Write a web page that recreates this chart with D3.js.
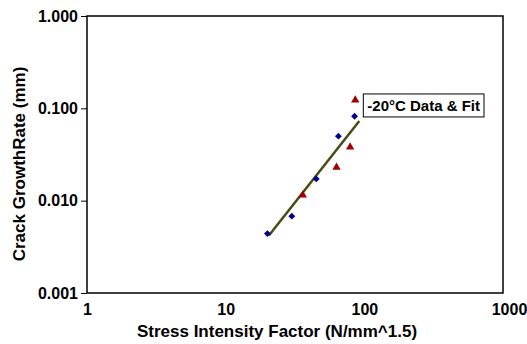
<!DOCTYPE html>
<html>
<head>
<meta charset="utf-8">
<script src="https://cdn.jsdelivr.net/npm/d3@7"></script>
<style>
  body { margin: 0; background: #fff; }
  text { font-family: "Liberation Sans", Arial, sans-serif; font-weight: bold; fill: #000; }
</style>
</head>
<body>
<div id="chart"></div>
<script>
// stress intensity factor (N/mm^1.5) vs crack growth rate (mm)
var blueK = [20, 30, 45, 65, 85];
var blueRate = [0.0044, 0.0068, 0.0172, 0.050, 0.082];
var redK = [36, 63, 79, 86];
var redRate = [0.0115, 0.023, 0.038, 0.123];
var fitK = [20.5, 92];
var fitRate = [0.0042, 0.073];
var xTicks = [1, 10, 100, 1000];
var yTicks = [0.001, 0.01, 0.1, 1];
var labelText = "-20°C Data & Fit";

function drawChart() {
  const width = 527;
  const height = 344;
  const margin = { top: 16, right: 24, bottom: 51, left: 87 };

  const svg = d3.select("#chart").append("svg")
    .attr("width", width)
    .attr("height", height);

  const x = d3.scaleLog()
    .domain([1, 1000])
    .range([margin.left, width - margin.right]);

  const y = d3.scaleLog()
    .domain([0.001, 1])
    .range([height - margin.bottom, margin.top]);

  // frame round the plot
  svg.append("rect")
    .attr("x", margin.left)
    .attr("y", margin.top)
    .attr("width", x(1000) - x(1))
    .attr("height", y(0.001) - y(1))
    .attr("fill", "none")
    .attr("stroke", "#000")
    .attr("stroke-width", 1.5);

  // y axis
  const yAxis = svg.append("g")
    .attr("transform", `translate(${margin.left},0)`)
    .call(d3.axisLeft(y).tickValues(yTicks).tickFormat(d3.format(".3f")).tickSize(6).tickPadding(3));
  yAxis.select(".domain").remove();
  yAxis.selectAll("text").attr("font-size", 16).style("font-family", "Liberation Sans, Arial, sans-serif").style("font-weight", "bold");

  // x axis, no tick marks
  const xAxis = svg.append("g")
    .attr("transform", `translate(0,${y(0.001)})`)
    .call(d3.axisBottom(x).tickValues(xTicks).tickFormat(d3.format("d")).tickSize(0).tickPadding(11));
  xAxis.select(".domain").remove();
  xAxis.selectAll("text").attr("font-size", 16).style("font-family", "Liberation Sans, Arial, sans-serif").style("font-weight", "bold");
  // last label is pushed in so it stays inside the window
  xAxis.selectAll("text").filter(d => d === 1000).attr("dx", 6);

  // axis titles
  svg.append("text")
    .attr("x", 277)
    .attr("y", 337)
    .attr("text-anchor", "middle")
    .attr("font-size", 17)
    .text("Stress Intensity Factor (N/mm^1.5)");

  svg.append("text")
    .attr("transform", "translate(25,164) rotate(-90)")
    .attr("text-anchor", "middle")
    .attr("font-size", 17)
    .text("Crack GrowthRate (mm)");

  // fit line
  const line = d3.line()
    .x(d => x(d[0]))
    .y(d => y(d[1]));
  svg.append("path")
    .datum(d3.zip(fitK, fitRate))
    .attr("d", line)
    .attr("fill", "none")
    .attr("stroke", "#4a4a16")
    .attr("stroke-width", 2.5);

  // blue diamonds
  svg.append("g").selectAll("path")
    .data(d3.zip(blueK, blueRate))
    .join("path")
    .attr("transform", d => `translate(${x(d[0])},${y(d[1])})`)
    .attr("d", d3.symbol(d3.symbolDiamond2, 30))
    .attr("fill", "#00008b");

  // red triangles
  svg.append("g").selectAll("path")
    .data(d3.zip(redK, redRate))
    .join("path")
    .attr("transform", d => `translate(${x(d[0])},${y(d[1])})`)
    .attr("d", d3.symbol(d3.symbolTriangle, 30))
    .attr("fill", "#a00000");

  // label box next to the end of the fit
  const lx = x(fitK[1]) + 4;
  const ly = y(fitRate[1]) - 27;
  const label = svg.append("g").attr("transform", `translate(${lx},${ly})`);
  const t = label.append("text")
    .attr("x", 4)
    .attr("y", 17)
    .attr("font-size", 15)
    .text(labelText);
  const bb = t.node().getBBox();
  label.insert("rect", "text")
    .attr("x", 0)
    .attr("y", 0)
    .attr("width", bb.width + 8)
    .attr("height", 23)
    .attr("fill", "#fff")
    .attr("stroke", "#000")
    .attr("stroke-width", 1);
}

document.addEventListener("DOMContentLoaded", drawChart);
</script>
</body>
</html>
